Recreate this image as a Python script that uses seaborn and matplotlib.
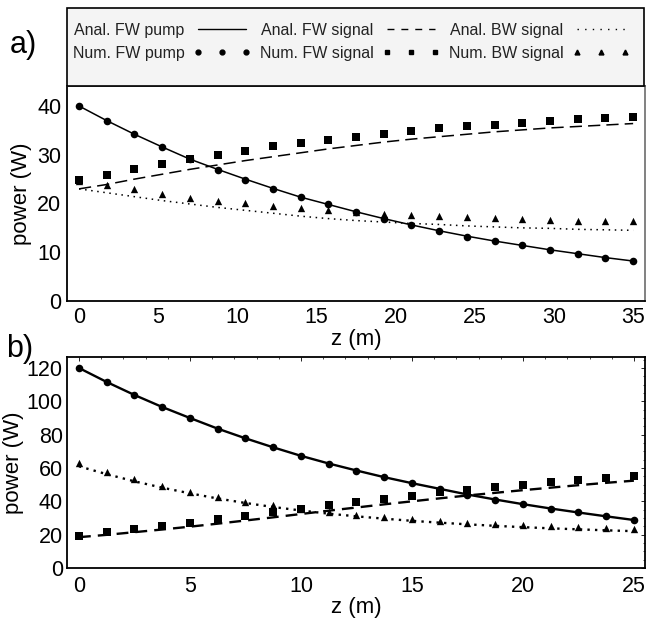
import numpy as np
import pandas as pd
import matplotlib
matplotlib.use("Agg")
import matplotlib.pyplot as plt
from matplotlib.lines import Line2D
from matplotlib.patches import Rectangle
from matplotlib.ticker import AutoMinorLocator
import seaborn as sns

# === Data panel a) ===
z_a = [0, 1.75, 3.5, 5.25, 7, 8.75, 10.5, 12.25, 14, 15.75, 17.5,
       19.25, 21, 22.75, 24.5, 26.25, 28, 29.75, 31.5, 33.25, 35]
anal_pump_a = [40.0, 37.0, 34.2, 31.6, 29.1, 27.0, 25.0, 23.1, 21.3, 19.8, 18.3,
               16.9, 15.6, 14.4, 13.3, 12.3, 11.4, 10.5, 9.7, 8.9, 8.2]
anal_fw_a = [23.0, 23.9, 25.0, 26.0, 27.0, 27.9, 28.8, 29.6, 30.4, 31.2, 31.9,
             32.6, 33.2, 33.7, 34.2, 34.7, 35.1, 35.5, 35.8, 36.1, 36.4]
anal_bw_a = [23.0, 22.2, 21.4, 20.6, 19.9, 19.2, 18.6, 18.0, 17.4, 16.9, 16.5,
             16.2, 15.9, 15.7, 15.4, 15.2, 15.0, 14.9, 14.7, 14.6, 14.5]
num_pump_a = [40.0, 37.0, 34.2, 31.5, 29.1, 26.9, 24.9, 23.0, 21.3, 19.8, 18.2,
              16.9, 15.5, 14.4, 13.2, 12.3, 11.4, 10.5, 9.7, 8.8, 8.2]
num_fw_a = [24.8, 25.8, 27.0, 28.0, 29.1, 29.9, 30.8, 31.7, 32.4, 33.1, 33.7,
            34.3, 34.9, 35.4, 35.8, 36.2, 36.6, 36.9, 37.3, 37.5, 37.7]
num_bw_a = [24.6, 23.8, 22.9, 22.0, 21.2, 20.6, 20.0, 19.5, 19.1, 18.6, 18.2,
            17.8, 17.6, 17.4, 17.3, 17.0, 16.8, 16.7, 16.5, 16.4, 16.4]

# === Data panel b) ===
z_b = [0, 1.25, 2.5, 3.75, 5, 6.25, 7.5, 8.75, 10, 11.25, 12.5,
       13.75, 15, 16.25, 17.5, 18.75, 20, 21.25, 22.5, 23.75, 25]
anal_pump_b = [120.0, 111.6, 103.8, 96.6, 90.0, 83.6, 77.8, 72.4, 67.3, 62.7, 58.5,
               54.5, 50.9, 47.5, 44.1, 41.1, 38.3, 35.7, 33.3, 31.0, 28.8]
anal_fw_b = [18.5, 19.9, 21.5, 23.1, 24.8, 26.6, 28.5, 30.4, 32.4, 34.4, 36.3,
             38.2, 40.0, 41.8, 43.5, 45.1, 46.7, 48.2, 49.7, 51.1, 52.4]
anal_bw_b = [61.0, 56.3, 52.0, 48.2, 44.8, 41.7, 39.0, 36.6, 34.5, 32.6, 31.0,
             29.6, 28.3, 27.2, 26.2, 25.3, 24.5, 23.8, 23.2, 22.6, 22.1]
num_pump_b = [120.0, 111.6, 103.8, 96.6, 90.0, 83.6, 77.8, 72.4, 67.3, 62.7, 58.5,
              54.5, 50.9, 47.5, 44.1, 41.1, 38.3, 35.7, 33.5, 31.3, 29.1]
num_fw_b = [19.5, 21.5, 23.3, 25.2, 27.2, 29.3, 31.4, 33.6, 35.7, 37.7, 39.6,
            41.6, 43.5, 45.4, 47.0, 48.6, 50.0, 51.5, 53.0, 54.2, 55.2]
num_bw_b = [62.9, 57.9, 53.3, 49.1, 45.5, 42.9, 39.9, 37.7, 35.7, 33.9, 32.1,
            30.5, 29.5, 28.1, 27.3, 26.5, 25.7, 25.1, 24.5, 23.9, 23.3]

legend_labels = ['Anal. FW pump', 'Num. FW pump', 'Anal. FW signal', 'Num. FW signal',
                 'Anal. BW signal', 'Num. BW signal']

sns.set_style("white")
plt.rcParams['font.family'] = ['Liberation Sans Narrow', 'Liberation Sans', 'DejaVu Sans']
plt.rcParams['text.color'] = 'black'
plt.rcParams['axes.labelcolor'] = 'black'
plt.rcParams['xtick.color'] = 'black'
plt.rcParams['ytick.color'] = 'black'

W, H = 659, 620
fig = plt.figure(figsize=(W / 100, H / 100), dpi=100)
ax_a = fig.add_axes([67 / W, 1 - 301 / H, 578 / W, 215 / H])
ax_b = fig.add_axes([67 / W, 1 - 568 / H, 578 / W, 211 / H])

k = 'black'


def draw_panel(ax, z, anal, num, lw, dash, dot, ms):
    sns.lineplot(x=z, y=anal[0], ax=ax, color=k, lw=lw, linestyle='-')
    sns.lineplot(x=z, y=anal[1], ax=ax, color=k, lw=lw, linestyle=(0, dash))
    sns.lineplot(x=z, y=anal[2], ax=ax, color=k, lw=lw, linestyle=(0, dot))
    sns.scatterplot(x=z, y=num[0], ax=ax, color=k, marker='o', s=ms[0], linewidth=0, zorder=3)
    sns.scatterplot(x=z, y=num[1], ax=ax, color=k, marker='s', s=ms[1], linewidth=0, zorder=3)
    sns.scatterplot(x=z, y=num[2], ax=ax, color=k, marker='^', s=ms[2], linewidth=0, zorder=3)


draw_panel(ax_a, z_a, [anal_pump_a, anal_fw_a, anal_bw_a],
           [num_pump_a, num_fw_a, num_bw_a], 1.1, (8, 4), (1, 3), (30, 40, 28))
draw_panel(ax_b, z_b, [anal_pump_b, anal_fw_b, anal_bw_b],
           [num_pump_b, num_fw_b, num_bw_b], 1.7, (5, 3), (1, 2.2), (30, 34, 28))

# axes a)
ax_a.set_xlim(-0.76, 35.75)
ax_a.set_ylim(0, 44.1)
ax_a.set_xticks(range(0, 36, 5))
ax_a.set_yticks(range(0, 41, 10))
ax_a.tick_params(labelsize=15.5, length=0, pad=4)
for side in ['left', 'bottom', 'top']:
    ax_a.spines[side].set_color(k)
    ax_a.spines[side].set_linewidth(1.3)
ax_a.spines['top'].set_color('#555555')
ax_a.spines['right'].set_color('#777777')
ax_a.spines['right'].set_linewidth(1.3)
ax_a.set_xlabel('z (m)', fontsize=16, labelpad=1)
ax_a.set_ylabel('power (W)', fontsize=16, labelpad=4)

# axes b)
ax_b.set_xlim(-0.54, 25.5)
ax_b.set_ylim(0, 126.6)
ax_b.set_xticks(range(0, 26, 5))
ax_b.set_yticks(range(0, 121, 20))
ax_b.xaxis.set_minor_locator(AutoMinorLocator(5))
ax_b.yaxis.set_minor_locator(AutoMinorLocator(4))
ax_b.tick_params(which='both', direction='in', top=True, right=True,
                 left=False, bottom=False, labelsize=15.5)
ax_b.tick_params(which='major', length=3, width=0.6)
ax_b.tick_params(which='minor', length=1.5, width=0.5)
ax_b.tick_params(axis='x', which='major', pad=6)
ax_b.tick_params(axis='y', which='major', pad=3)
for side in ['left', 'bottom', 'top', 'right']:
    ax_b.spines[side].set_color(k)
    ax_b.spines[side].set_linewidth(1.3)
ax_b.set_xlabel('z (m)', fontsize=16, labelpad=0)
ax_b.set_ylabel('power (W)', fontsize=16, labelpad=2)

# legend box
fig.patches.append(Rectangle((67 / W, 1 - 86 / H), 577 / W, 78 / H,
                             transform=fig.transFigure, facecolor='#f4f4f4',
                             edgecolor=k, linewidth=1.2, zorder=0))
handles = [
    Line2D([], [], color=k, lw=1.0, linestyle='-'),
    Line2D([], [], color=k, marker='o', markersize=3.5, linestyle='none'),
    Line2D([], [], color=k, lw=1.0, linestyle=(0, (5, 5))),
    Line2D([], [], color=k, marker='s', markersize=3.5, linestyle='none'),
    Line2D([], [], color=k, lw=1.0, linestyle=(0, (1, 4.5))),
    Line2D([], [], color=k, marker='^', markersize=3.5, linestyle='none'),
]
fig.legend(handles, legend_labels, ncol=3, markerfirst=False, numpoints=3,
           loc='upper left', bbox_to_anchor=(73 / W, 1 - 23 / H),
           frameon=False, handlelength=3.6, handletextpad=0.55,
           columnspacing=0.55, labelspacing=0.5, borderaxespad=0, borderpad=0,
           prop={'family': ['Liberation Sans', 'DejaVu Sans'], 'size': 11.5},
           labelcolor='#222222')

fig.text(10 / W, 1 - 45 / H, 'a)', fontsize=22, va='center', ha='left')
fig.text(6 / W, 1 - 349 / H, 'b)', fontsize=22, va='center', ha='left')

plt.savefig('out.png', dpi=100)
